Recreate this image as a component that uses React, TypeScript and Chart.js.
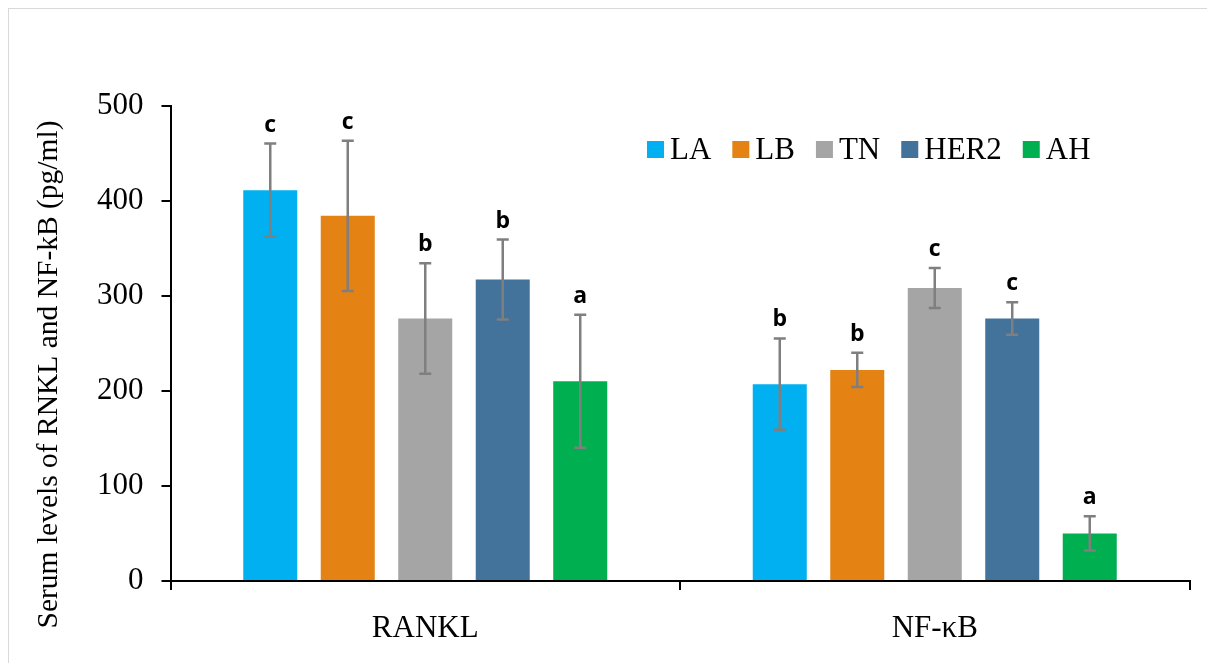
import React, { useEffect, useRef } from 'react';
import { Chart, registerables } from 'chart.js';

Chart.register(...registerables);

// ---- Data ----
const CATEGORIES = ['RANKL', 'NF-κB'];
const SERIES_NAMES = ['LA', 'LB', 'TN', 'HER2', 'AH'];
const SERIES_COLORS = ['#00B0F0', '#E48314', '#A5A5A5', '#43729B', '#00AF50'];

const LA_VALUES = [411, 207];
const LB_VALUES = [384, 222];
const TN_VALUES = [276, 308];
const HER2_VALUES = [317, 276];
const AH_VALUES = [210, 50];

const LA_ERRORS = [49, 48];
const LB_ERRORS = [79, 18];
const TN_ERRORS = [58, 21];
const HER2_ERRORS = [42, 17];
const AH_ERRORS = [70, 18];

const LA_LETTERS = ['c', 'b'];
const LB_LETTERS = ['c', 'b'];
const TN_LETTERS = ['b', 'c'];
const HER2_LETTERS = ['b', 'c'];
const AH_LETTERS = ['a', 'a'];

const Y_TICKS = [0, 100, 200, 300, 400, 500];
const Y_TITLE = 'Serum levels of RNKL and NF-kB (pg/ml)';

const VALUES = [LA_VALUES, LB_VALUES, TN_VALUES, HER2_VALUES, AH_VALUES];
const ERRORS = [LA_ERRORS, LB_ERRORS, TN_ERRORS, HER2_ERRORS, AH_ERRORS];
const LETTERS = [LA_LETTERS, LB_LETTERS, TN_LETTERS, HER2_LETTERS, AH_LETTERS];

const SERIF = "'Liberation Serif', 'Times New Roman', serif";

const overlayPlugin = {
  id: 'overlay',
  afterDatasetsDraw(chart: any) {
    const ctx = chart.ctx;
    const y = chart.scales.y;
    chart.data.datasets.forEach((ds: any, di: number) => {
      const meta = chart.getDatasetMeta(di);
      meta.data.forEach((el: any, i: number) => {
        const v = ds.data[i];
        const e = ERRORS[di][i];
        const yt = y.getPixelForValue(v + e);
        const yb = y.getPixelForValue(v - e);
        ctx.save();
        ctx.strokeStyle = '#7F7F7F';
        ctx.lineWidth = 2.5;
        ctx.beginPath();
        ctx.moveTo(el.x, yt);
        ctx.lineTo(el.x, yb);
        ctx.moveTo(el.x - 6, yt);
        ctx.lineTo(el.x + 6, yt);
        ctx.moveTo(el.x - 6, yb);
        ctx.lineTo(el.x + 6, yb);
        ctx.stroke();
        ctx.fillStyle = '#000';
        ctx.font = "bold 23px 'Open Sans', sans-serif";
        ctx.textAlign = 'center';
        ctx.textBaseline = 'alphabetic';
        ctx.fillText(LETTERS[di][i], el.x, yt - 12);
        ctx.restore();
      });
    });
  },
  afterDraw(chart: any) {
    const ctx = chart.ctx;
    // legend
    ctx.save();
    ctx.font = `31px ${SERIF}`;
    ctx.textBaseline = 'middle';
    ctx.textAlign = 'left';
    let x = 638;
    chart.data.datasets.forEach((ds: any) => {
      ctx.fillStyle = ds.backgroundColor;
      ctx.fillRect(x, 132, 17, 17);
      ctx.fillStyle = '#000';
      ctx.fillText(ds.label, x + 23, 142);
      x += 23 + ctx.measureText(ds.label).width + 21;
    });
    ctx.restore();
    // y-axis title
    ctx.save();
    ctx.translate(40, 365.5);
    ctx.rotate(-Math.PI / 2);
    ctx.font = `29.5px ${SERIF}`;
    ctx.fillStyle = '#000';
    ctx.textAlign = 'center';
    ctx.textBaseline = 'middle';
    ctx.fillText(Y_TITLE, 0, 0);
    ctx.restore();
  },
};

export default function App() {
  const ref = useRef<HTMLCanvasElement>(null);
  useEffect(() => {
    if (!ref.current) return;
    const chart = new Chart(ref.current, {
      type: 'bar',
      data: {
        labels: CATEGORIES,
        datasets: SERIES_NAMES.map((name, i) => ({
          label: name,
          data: VALUES[i],
          backgroundColor: SERIES_COLORS[i],
          borderWidth: 0,
          categoryPercentage: 0.7605,
          barPercentage: 0.697,
        })),
      },
      options: {
        animation: false,
        responsive: false,
        layout: { padding: { top: 96.5, right: 17.5, bottom: 0, left: 0 } },
        plugins: { legend: { display: false }, tooltip: { enabled: false } },
        scales: {
          x: {
            offset: true,
            grid: {
              offset: true,
              drawOnChartArea: false,
              drawTicks: true,
              tickLength: 9,
              color: '#000',
              lineWidth: 2,
            },
            border: { display: true, color: '#000', width: 2 },
            ticks: {
              color: '#000',
              font: { family: SERIF, size: 31 },
              padding: 20,
            },
            afterFit: (s: any) => {
              s.height = 82;
            },
          },
          y: {
            min: 0,
            max: 500,
            afterBuildTicks: (s: any) => {
              s.ticks = Y_TICKS.map((v) => ({ value: v }));
            },
            grid: {
              drawOnChartArea: false,
              drawTicks: true,
              tickLength: 9,
              color: '#000',
              lineWidth: 2,
            },
            border: { display: true, color: '#000', width: 2 },
            ticks: {
              color: '#000',
              font: { family: SERIF, size: 31 },
              padding: 18,
            },
            afterFit: (s: any) => {
              s.width = 161.5;
            },
          },
        },
      },
      plugins: [overlayPlugin],
    });
    return () => chart.destroy();
  }, []);
  return (
    <div
      style={{
        width: 1198,
        height: 654,
        borderTop: '1px solid #d9d9d9',
        borderLeft: '1px solid #d9d9d9',
        background: '#fff',
      }}
    >
      <canvas ref={ref} width={1198} height={654} style={{ display: 'block' }} />
    </div>
  );
}
